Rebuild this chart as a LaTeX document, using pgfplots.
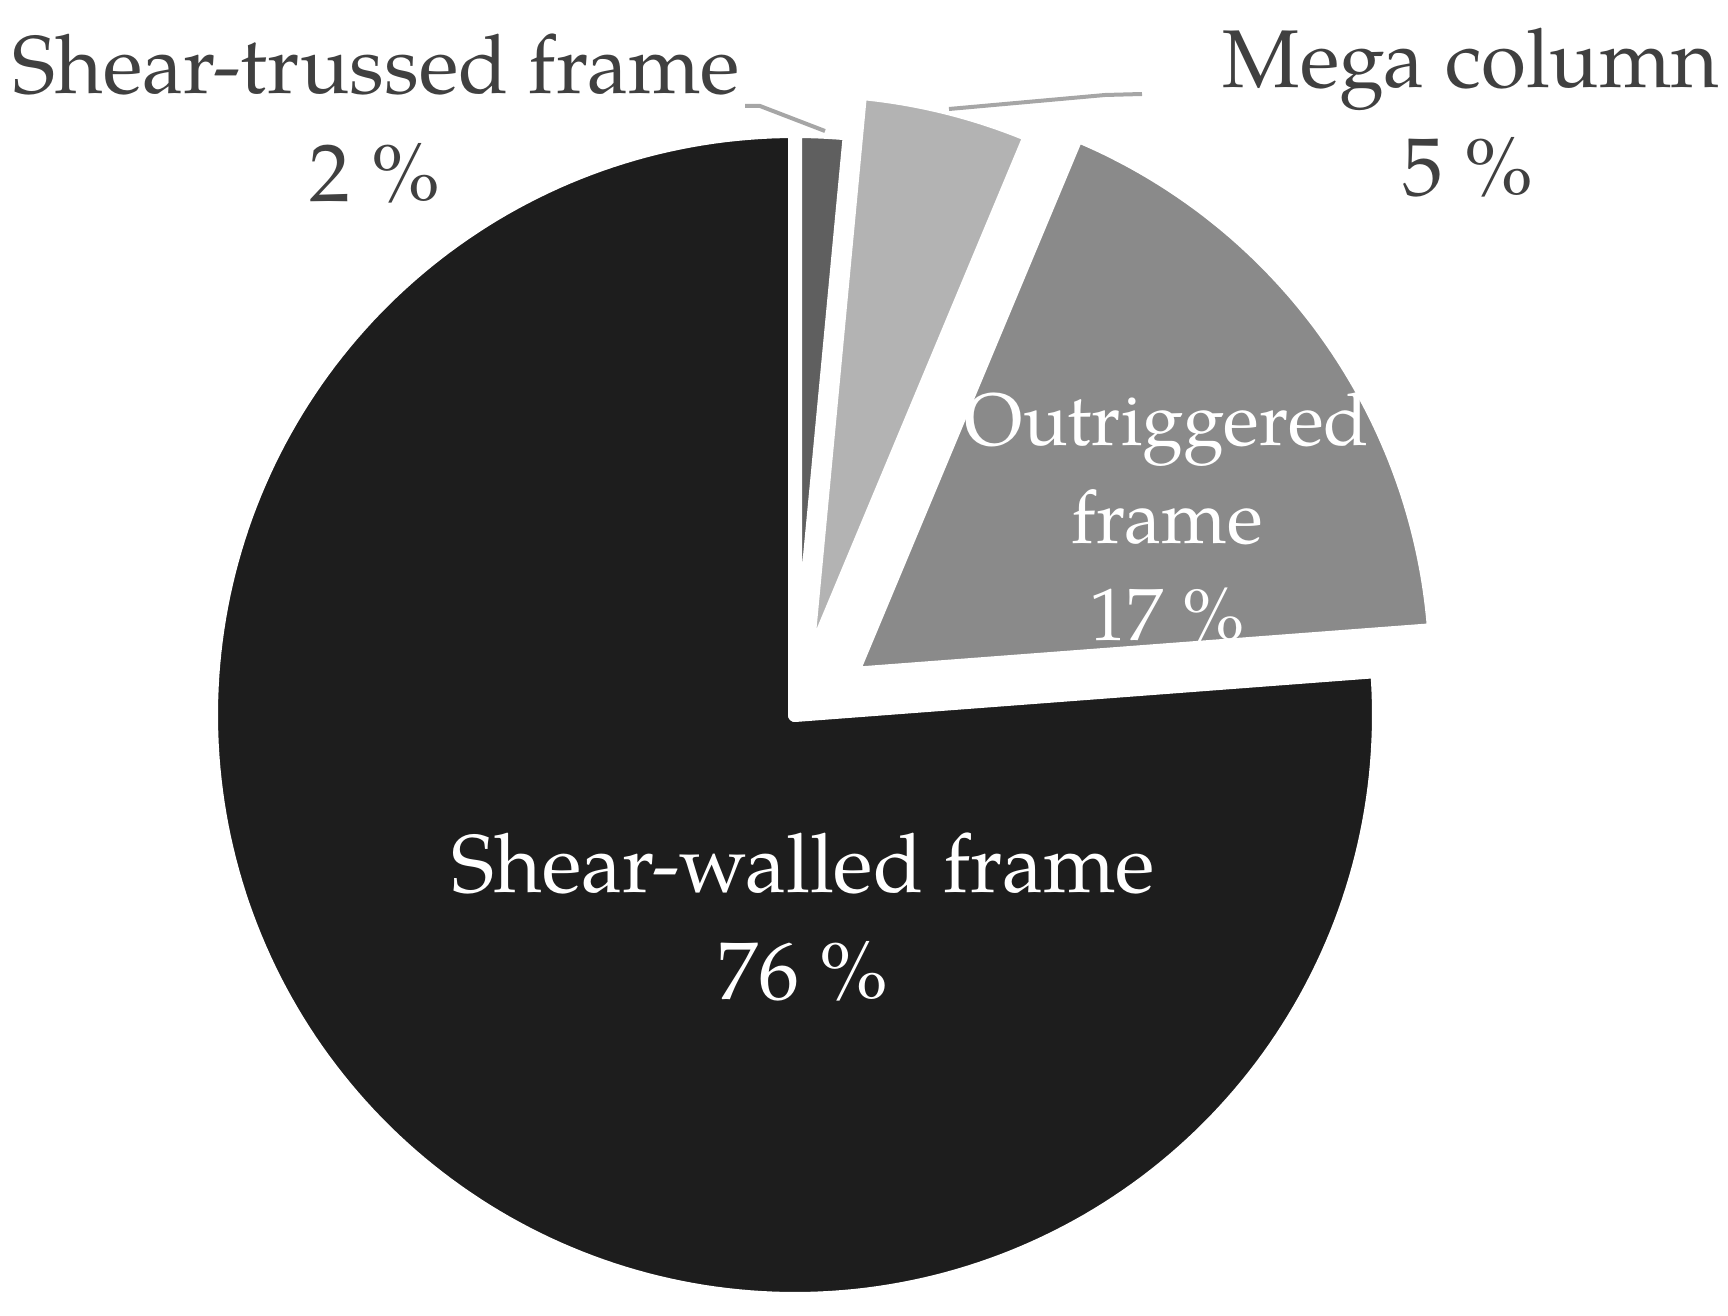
\documentclass[border=0pt]{standalone}
\usepackage{pgfplots}
\pgfplotsset{compat=1.18}
\usepackage{fontspec}
\setmainfont{texgyrepagella-regular.otf}
\definecolor{cSW}{HTML}{1D1D1D}
\definecolor{cOF}{HTML}{8A8A8A}
\definecolor{cMC}{HTML}{B3B3B3}
\definecolor{cST}{HTML}{5F5F5F}
\definecolor{ctxt}{HTML}{404040}
\definecolor{cline}{HTML}{A6A6A6}
% data (percent shares), clockwise from 12 o'clock
\def\vST{1.5}  % Shear-trussed frame
\def\vMC{4.8}  % Mega column
\def\vOF{17.5} % Outriggered frame
\def\vSW{76.2} % Shear-walled frame
% explosion (drawing units)
\def\eST{0}\def\eMC{42}\def\eOF{70}\def\eSW{0}
\def\R{584}\def\cx{795}\def\cy{600}
\pgfmathsetmacro{\aA}{90-3.6*\vST}
\pgfmathsetmacro{\aB}{\aA-3.6*\vMC}
\pgfmathsetmacro{\aC}{\aB-3.6*\vOF}
\pgfmathsetmacro{\aD}{\aC-3.6*\vSW}
\pgfmathsetmacro{\xST}{\cx+\eST*cos((90+\aA)/2)}
\pgfmathsetmacro{\yST}{\cy+\eST*sin((90+\aA)/2)}
\pgfmathsetmacro{\xMC}{\cx+\eMC*cos((\aA+\aB)/2)}
\pgfmathsetmacro{\yMC}{\cy+\eMC*sin((\aA+\aB)/2)}
\pgfmathsetmacro{\xOF}{\cx+\eOF*cos((\aB+\aC)/2)}
\pgfmathsetmacro{\yOF}{\cy+\eOF*sin((\aB+\aC)/2)}
\pgfmathsetmacro{\xSW}{\cx+\eSW*cos((\aC+\aD)/2)}
\pgfmathsetmacro{\ySW}{\cy+\eSW*sin((\aC+\aD)/2)}
\begin{document}
\begin{tikzpicture}
\begin{axis}[
  width=172.8mm, height=131.5mm, scale only axis,
  xmin=0, xmax=1728, ymin=0, ymax=1315,
  hide axis, clip=false,
  every axis plot/.append style={draw=white, line width=1.4mm, line join=round, variable=\t},
]
\path (rel axis cs:0,0) rectangle (rel axis cs:1,1);
\addplot[fill=cSW, domain=\aD:\aC, samples=240] ({\xSW+\R*cos(\t)},{\ySW+\R*sin(\t)}) -- (axis cs:\xSW,\ySW) -- cycle;
\addplot[fill=cOF, domain=\aC:\aB, samples=80] ({\xOF+\R*cos(\t)},{\yOF+\R*sin(\t)}) -- (axis cs:\xOF,\yOF) -- cycle;
\addplot[fill=cMC, domain=\aB:\aA, samples=40] ({\xMC+\R*cos(\t)},{\yMC+\R*sin(\t)}) -- (axis cs:\xMC,\yMC) -- cycle;
\addplot[fill=cST, domain=\aA:90, samples=20] ({\xST+\R*cos(\t)},{\yST+\R*sin(\t)}) -- (axis cs:\xST,\yST) -- cycle;
% leader lines
\addplot[draw=cline, line width=0.4mm, line join=miter] coordinates {(745,1209) (760,1209) (825,1184)};
\addplot[draw=cline, line width=0.4mm, line join=miter] coordinates {(949,1206) (1105,1220) (1142,1221)};
% labels
\begin{scope}[every node/.style={anchor=base, inner sep=0pt, font=\fontsize{23.3}{28}\selectfont}]
\node[text=ctxt] at (axis cs:376,1221) {Shear-trussed frame};
\node[text=ctxt] at (axis cs:375,1113) {2 \%};
\node[text=ctxt] at (axis cs:1471,1227) {Mega column};
\node[text=ctxt] at (axis cs:1468,1119) {5 \%};
\node[text=white] at (axis cs:803,423) {Shear-walled frame};
\node[text=white] at (axis cs:803,316) {76 \%};
\end{scope}
\begin{scope}[every node/.style={anchor=base, inner sep=0pt, text=white, font=\fontsize{21.1}{26}\selectfont}]
\node at (axis cs:1167,870) {Outriggered};
\node at (axis cs:1167,772) {frame};
\node at (axis cs:1167,675) {17 \%};
\end{scope}
\end{axis}
\end{tikzpicture}
\end{document}
